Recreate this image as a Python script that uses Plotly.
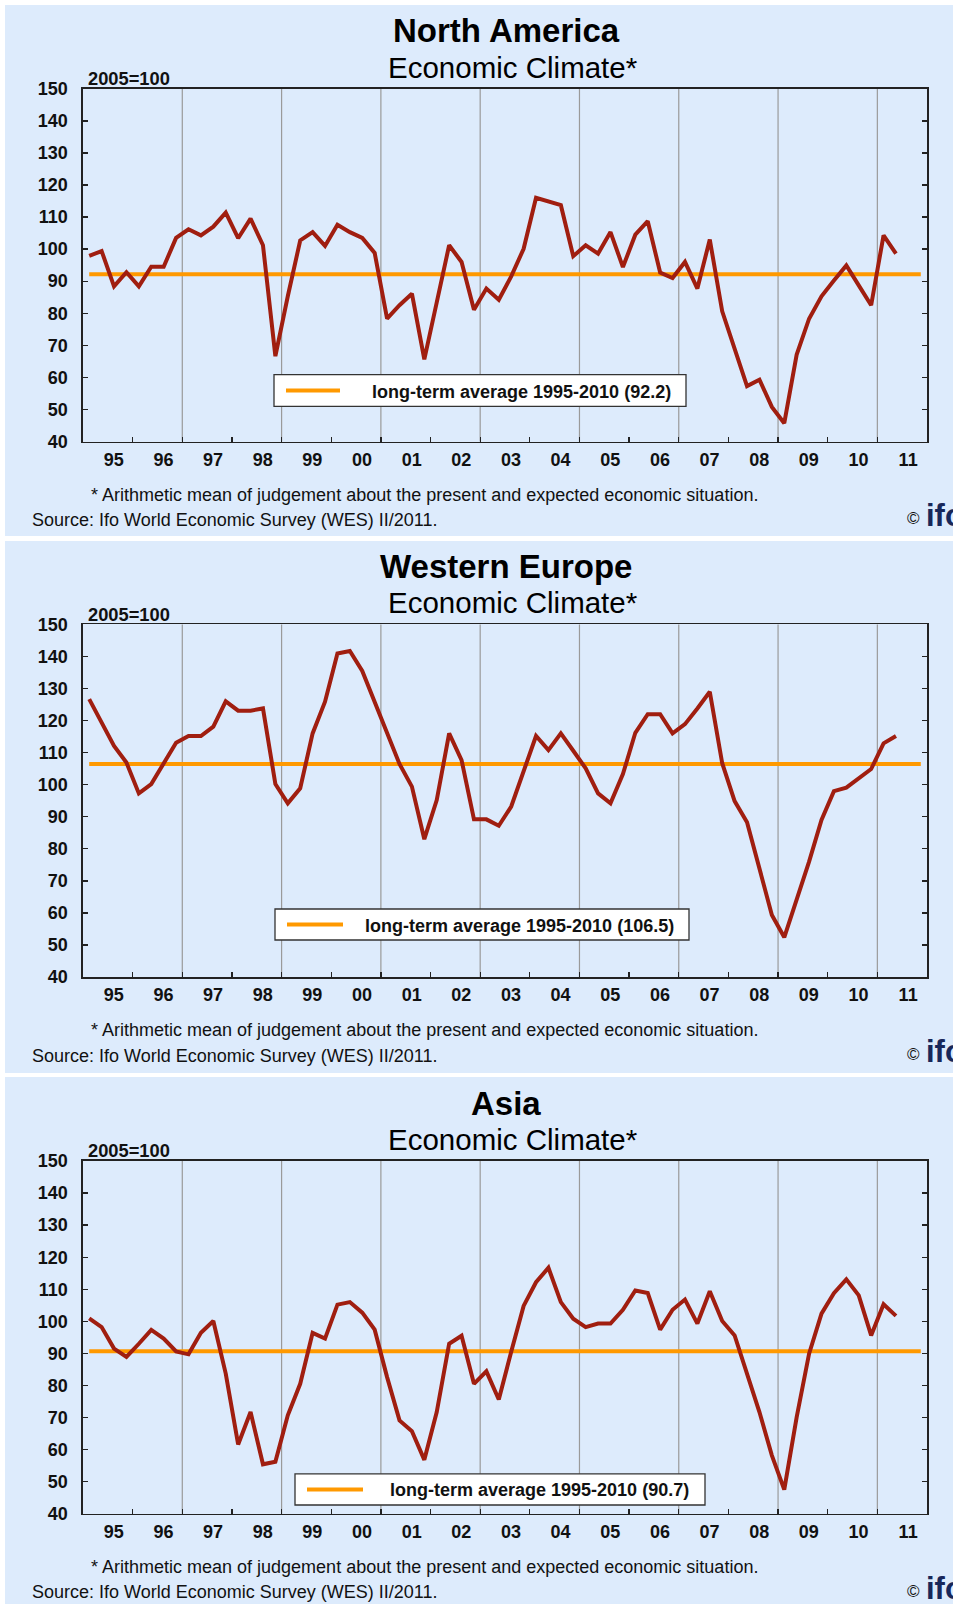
import plotly.graph_objects as go

W, H = 953, 1604

# ---------------- data ----------------
regions = ["North America", "Western Europe", "Asia"]
year_labels = ["95", "96", "97", "98", "99", "00", "01", "02", "03", "04",
               "05", "06", "07", "08", "09", "10", "11"]
first_year = 1995
# quarterly observations 1995Q1 .. 2011Q2
quarter_labels = [f"{y}Q{q}" for y in range(1995, 2012) for q in range(1, 5)][:66]

north_america = [97.9, 99.4, 88.4, 92.8, 88.4, 94.5, 94.5, 103.5, 106.2, 104.3,
                 107.0, 111.4, 103.4, 109.5, 101.2, 66.6, 85.3, 102.7, 105.3, 101.0,
                 107.6, 105.3, 103.5, 98.8, 78.3, 82.5, 86.1, 65.6, 83.4, 101.2,
                 96.0, 81.1, 87.7, 84.2, 91.5, 100.1, 116.0, 114.7, 113.7, 97.8,
                 101.2, 98.6, 105.3, 94.4, 104.5, 108.7, 92.7, 91.0, 96.0, 87.7,
                 103.0, 80.6, 68.9, 57.3, 59.3, 50.8, 45.7, 67.1, 78.3, 85.3,
                 90.2, 94.9, 88.7, 82.5, 104.3, 98.6]
western_europe = [126.7, 119.1, 112.1, 106.9, 97.3, 100.2, 106.5, 113.1, 115.2, 115.2,
                  118.1, 126.0, 123.1, 123.1, 123.8, 100.2, 94.2, 98.9, 116.0, 125.9,
                  140.9, 141.7, 135.5, 126.0, 116.5, 106.5, 99.4, 83.0, 95.2, 116.0,
                  107.7, 89.2, 89.2, 87.2, 93.2, 104.1, 115.2, 110.8, 116.0, 110.6,
                  105.1, 97.3, 94.2, 103.3, 116.2, 122.0, 122.0, 116.0, 118.9, 123.8,
                  129.0, 106.7, 94.9, 88.3, 73.4, 59.4, 52.4, 64.1, 76.0, 89.0,
                  98.0, 99.1, 102.0, 104.9, 112.9, 115.2]
asia = [100.9, 98.2, 91.5, 88.9, 93.0, 97.3, 94.6, 90.6, 89.7, 96.4,
        100.1, 83.7, 61.6, 71.7, 55.4, 56.2, 70.7, 80.5, 96.4, 94.6,
        105.2, 106.0, 102.7, 97.4, 82.6, 69.1, 65.7, 56.8, 71.7, 93.0,
        95.5, 80.5, 84.4, 75.6, 90.5, 104.8, 112.2, 116.7, 106.0, 100.8,
        98.2, 99.3, 99.3, 103.6, 109.6, 108.8, 97.4, 103.6, 106.8, 99.3,
        109.4, 100.1, 95.6, 83.7, 71.7, 58.2, 47.5, 70.1, 89.9, 102.4,
        108.8, 113.1, 108.1, 95.6, 105.3, 101.7]
long_term_avg = [92.2, 106.5, 90.7]
series = [north_america, western_europe, asia]

# quarter positions on a continuous year axis (quarter mid-points)
def qpos(label):
    y, q = label.split("Q")
    return int(y) + (int(q) - 0.5) / 4.0

x_vals = [qpos(l) for l in quarter_labels]
avg_x = [qpos("1995Q1"), qpos("2011Q4")]

# ---------------- styling / layout ----------------
FONT = "Arial, 'Liberation Sans', sans-serif"
RED = "#A01E10"
ORANGE = "#FF9900"
PANEL_BG = "#DDEBFC"

def yp(py):
    return 1 - py / H

def xp(px):
    return px / W

plot_top = [88.8, 624.4, 1161.0]
plot_h = 352.7
plot_left, plot_right = 83.0, 927.0
panel_rects = [(5, 536), (541, 1073), (1077, 1610)]
legend_boxes = [  # x0, x1, top offset, bottom offset, sample x0, x1, text x
    (274, 686, 285.9, 317.5, 286, 340, 370),
    (275, 689, 284.6, 315.6, 287, 343, 363),
    (295, 705, 312.8, 344.0, 307, 363, 388),
]

fig = go.Figure()
shapes = []
annotations = []

for k in range(3):
    sfx = "" if k == 0 else str(k + 1)
    xa, ya = "x" + sfx, "y" + sfx
    T = plot_top[k]
    Bm = T + plot_h

    # orange long-term average line
    fig.add_trace(go.Scatter(x=avg_x, y=[long_term_avg[k]] * 2, mode="lines",
                             line=dict(color=ORANGE, width=4), xaxis=xa, yaxis=ya,
                             showlegend=False, hoverinfo="skip"))
    # climate series
    fig.add_trace(go.Scatter(x=x_vals, y=series[k], mode="lines",
                             line=dict(color=RED, width=4), xaxis=xa, yaxis=ya,
                             showlegend=False, name=regions[k]))

    fig.layout["xaxis" + sfx] = dict(
        domain=[xp(plot_left), xp(plot_right)], anchor=ya, range=[1995, 2012],
        tickmode="array",
        tickvals=[first_year + i + 0.62 for i in range(len(year_labels))],
        ticktext=year_labels, ticks="", showgrid=False, zeroline=False,
        showline=True, mirror=True, linecolor="#222", linewidth=1.6,
        tickfont=dict(family=FONT, size=18, color="#111", weight="bold"),
        ticklabelstandoff=1, automargin=False,
        minor=dict(tickmode="array",
                   tickvals=list(range(1996, 2012)),
                   ticks="inside", ticklen=5, tickcolor="#222", tickwidth=1.3,
                   showgrid=False),
        fixedrange=True,
    )
    fig.layout["yaxis" + sfx] = dict(
        domain=[yp(Bm), yp(T)], anchor=xa, range=[40, 150], dtick=10, tick0=40,
        ticks="inside", ticklen=5, tickcolor="#222", tickwidth=1.3,
        showgrid=False, zeroline=False, showline=True, mirror="ticks",
        linecolor="#222", linewidth=1.6, automargin=False,
        tickfont=dict(family=FONT, size=18, color="#111", weight="bold"),
        ticklabelstandoff=10, fixedrange=True,
    )

    # panel background
    r0, r1 = panel_rects[k]
    shapes.append(dict(type="rect", xref="paper", yref="paper", x0=xp(5), x1=xp(970),
                       y0=yp(r1), y1=yp(r0), fillcolor=PANEL_BG, line=dict(width=0),
                       layer="below"))
    # vertical grid lines every second year
    for yr in range(1997, 2012, 2):
        shapes.append(dict(type="line", xref=xa, yref=ya + " domain", x0=yr, x1=yr,
                           y0=0, y1=1, line=dict(color="#9a9a9a", width=1.2),
                           layer="below"))
    # legend box
    lx0, lx1, lt, lb, sx0, sx1, tx = legend_boxes[k]
    shapes.append(dict(type="rect", xref="paper", yref="paper", x0=xp(lx0), x1=xp(lx1),
                       y0=yp(T + lb), y1=yp(T + lt), fillcolor="white",
                       line=dict(color="#333", width=1.3), layer="above"))
    ly = T + (lt + lb) / 2
    shapes.append(dict(type="line", xref="paper", yref="paper", x0=xp(sx0), x1=xp(sx1),
                       y0=yp(ly), y1=yp(ly), line=dict(color=ORANGE, width=4),
                       layer="above"))
    annotations.append(dict(xref="paper", yref="paper", x=xp(tx), y=yp(ly + 1),
                            xanchor="left", yanchor="middle", showarrow=False,
                            text=f"long-term average 1995-2010 ({long_term_avg[k]})",
                            font=dict(family=FONT, size=18, color="#111", weight="bold")))

    # titles
    annotations.append(dict(xref="paper", yref="paper", x=xp(506), y=yp(T - 57.8),
                            xanchor="center", yanchor="middle", showarrow=False,
                            text=regions[k],
                            font=dict(family=FONT, size=33, color="#000", weight="bold")))
    annotations.append(dict(xref="paper", yref="paper", x=xp(513), y=yp(T - 21.8),
                            xanchor="center", yanchor="middle", showarrow=False,
                            text="Economic Climate*",
                            font=dict(family=FONT, size=29.5, color="#000")))
    annotations.append(dict(xref="paper", yref="paper", x=xp(86), y=yp(T - 10.1),
                            xanchor="left", yanchor="middle", showarrow=False,
                            text="2005=100",
                            font=dict(family=FONT, size=18.3, color="#111", weight="bold")))
    # footnotes
    annotations.append(dict(xref="paper", yref="paper", x=xp(89), y=yp(T + 405.8),
                            xanchor="left", yanchor="middle", showarrow=False,
                            text="* Arithmetic mean of judgement about the present and expected economic situation.",
                            font=dict(family=FONT, size=18, color="#111")))
    annotations.append(dict(xref="paper", yref="paper", x=xp(30), y=yp(T + 431.2),
                            xanchor="left", yanchor="middle", showarrow=False,
                            text="Source: Ifo World Economic Survey (WES) II/2011.",
                            font=dict(family=FONT, size=18, color="#111")))
    # logo (cut at the right edge, as in the original)
    annotations.append(dict(xref="paper", yref="paper", x=xp(913), y=yp(T + 430),
                            xanchor="center", yanchor="middle", showarrow=False,
                            text="©", font=dict(family=FONT, size=17, color="#111")))
    annotations.append(dict(xref="paper", yref="paper", x=xp(924), y=yp(T + 427),
                            xanchor="left", yanchor="middle", showarrow=False,
                            text="ifo",
                            font=dict(family=FONT, size=31, color="#17275A", weight="bold")))

fig.update_layout(
    width=W, height=H,
    margin=dict(l=0, r=0, t=0, b=0, pad=0, autoexpand=False),
    paper_bgcolor="white", plot_bgcolor="white",
    shapes=shapes, annotations=annotations, showlegend=False,
    font=dict(family=FONT),
)

fig.write_html(
    "out.html",
    config={"displayModeBar": False, "staticPlot": True},
    post_script=(
        "document.documentElement.style.margin='0';"
        "document.body.style.margin='0';document.body.style.padding='0';"
        "document.body.style.overflow='hidden';"
        "var gd=document.getElementById('{plot_id}');"
        "gd.style.position='fixed';gd.style.top='0px';gd.style.left='0px';"
    ),
)
